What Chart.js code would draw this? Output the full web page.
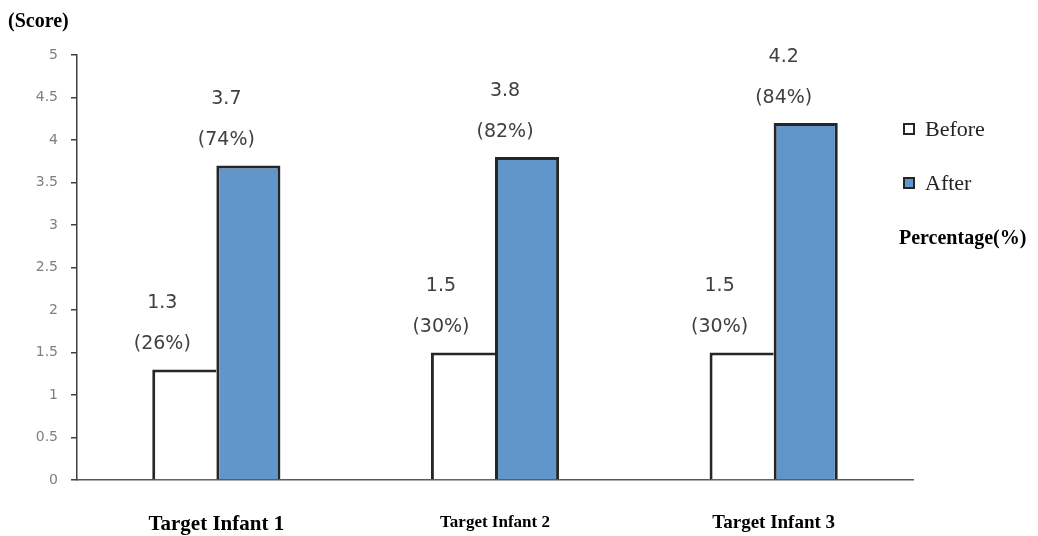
<!DOCTYPE html>
<html>
<head>
<meta charset="utf-8">
<script src="https://cdn.jsdelivr.net/npm/chart.js@4/dist/chart.umd.min.js"></script>
<style>
html,body{margin:0;padding:0;background:#fff;}
canvas{display:block;}
</style>
</head>
<body>
<canvas id="c" width="1038" height="536"></canvas>
<script>
const categories = ['Target Infant 1', 'Target Infant 2', 'Target Infant 3'];
const seriesNames = ['Before', 'After'];
const beforeScores = [1.3, 1.5, 1.5];
const afterScores = [3.7, 3.8, 4.2];
const beforePercents = ['(26%)', '(30%)', '(30%)'];
const afterPercents = ['(74%)', '(82%)', '(84%)'];
const categoryFontSizes = [21, 17, 19];
const yMin = 0, yMax = 5, yStep = 0.5;
const yAxisTitle = '(Score)';
const legendNote = 'Percentage(%)';

const valueLabelPlugin = {
  id: 'valueLabels',
  afterDatasetsDraw(chart) {
    const ctx = chart.ctx;
    ctx.save();
    ctx.font = '19px "DejaVu Sans"';
    ctx.fillStyle = '#404040';
    ctx.textAlign = 'center';
    ctx.textBaseline = 'middle';
    chart.data.datasets.forEach((ds, di) => {
      const meta = chart.getDatasetMeta(di);
      meta.data.forEach((el, i) => {
        const x = el.x - 22;
        ctx.fillText(String(ds.data[i]), x, el.y - 66);
        ctx.fillText(ds.percents[i], x, el.y - 25);
      });
    });
    ctx.restore();
  }
};

const sideTextPlugin = {
  id: 'sideText',
  afterDraw(chart) {
    const ctx = chart.ctx;
    ctx.save();
    ctx.textBaseline = 'middle';
    ctx.textAlign = 'left';
    ctx.fillStyle = '#000';
    ctx.font = 'bold 20px "Liberation Serif"';
    ctx.fillText(yAxisTitle, 8, 22);
    const legendYs = [129, 183];
    chart.data.datasets.forEach((ds, i) => {
      const y = legendYs[i];
      ctx.fillStyle = ds.backgroundColor;
      ctx.fillRect(904, y - 5, 10, 10);
      ctx.strokeStyle = '#262626';
      ctx.lineWidth = 2;
      ctx.strokeRect(904, y - 5, 10, 10);
      ctx.fillStyle = '#222';
      ctx.font = '22px "Liberation Serif"';
      ctx.fillText(ds.label, 925, y + 1);
    });
    ctx.fillStyle = '#000';
    ctx.font = 'bold 20px "Liberation Serif"';
    ctx.fillText(legendNote, 899, 239);
    ctx.restore();
  }
};

new Chart(document.getElementById('c'), {
  type: 'bar',
  data: {
    labels: categories,
    datasets: [
      {
        label: seriesNames[0],
        data: beforeScores,
        percents: beforePercents,
        backgroundColor: '#ffffff',
        borderColor: '#262626',
        borderWidth: {left: 3, top: 3, right: 0, bottom: 0},
        borderSkipped: false,
        categoryPercentage: 0.46,
        barPercentage: 1
      },
      {
        label: seriesNames[1],
        data: afterScores,
        percents: afterPercents,
        backgroundColor: '#6096C9',
        borderColor: '#262626',
        borderWidth: 3,
        borderSkipped: 'start',
        categoryPercentage: 0.46,
        barPercentage: 1
      }
    ]
  },
  options: {
    responsive: false,
    animation: false,
    devicePixelRatio: 1,
    layout: {padding: {top: 55, right: 125, bottom: 0, left: 0}},
    plugins: {
      legend: {display: false},
      tooltip: {enabled: false}
    },
    scales: {
      x: {
        grid: {display: false},
        border: {display: true, color: '#595959', width: 1.5},
        ticks: {
          padding: 24,
          color: '#000',
          maxRotation: 0,
          font: (c) => ({family: '"Liberation Serif"', weight: 'bold', size: categoryFontSizes[c.index] || 18})
        },
        afterFit(scale) { scale.height = 56; }
      },
      y: {
        min: yMin,
        max: yMax,
        grid: {display: true, drawOnChartArea: false, drawTicks: true, tickLength: 6, color: '#404040', lineWidth: 1.5},
        border: {display: true, color: '#404040', width: 1.5},
        ticks: {
          stepSize: yStep,
          padding: 13,
          color: '#7f7f7f',
          font: {family: '"DejaVu Sans"', size: 14},
          callback: (v) => String(v)
        },
        afterFit(scale) { scale.width = 77; }
      }
    }
  },
  plugins: [valueLabelPlugin, sideTextPlugin]
});
</script>
</body>
</html>
